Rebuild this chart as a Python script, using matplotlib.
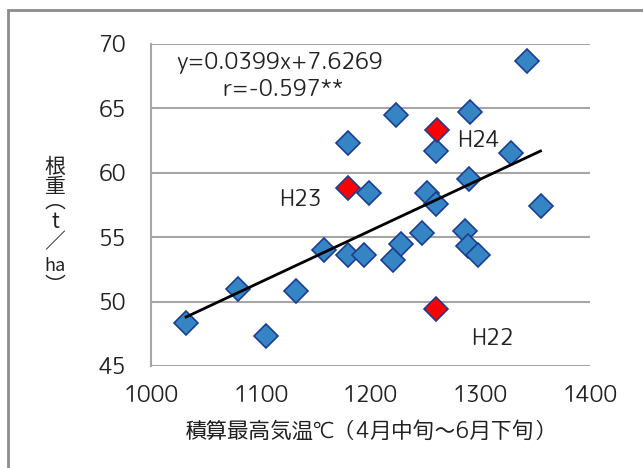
# coding=utf-8
import matplotlib
matplotlib.use("Agg")
import matplotlib.pyplot as plt
import numpy as np
from matplotlib.patches import Rectangle

plt.rcParams['font.family'] = ['Rounded Mplus 1c', 'Noto Sans CJK JP', 'DejaVu Sans']

# accumulated max temperature (x) and root weight t/ha (y)
temp_normal = [1032, 1079, 1105, 1132, 1158, 1179.5, 1194, 1179.5, 1199, 1223,
               1221, 1228, 1247, 1252, 1260, 1260, 1291, 1290, 1286, 1289,
               1298, 1328, 1343, 1355]
root_normal = [48.35, 51.0, 47.3, 50.8, 54.0, 53.6, 53.6, 62.3, 58.4, 64.5,
               53.2, 54.5, 55.3, 58.4, 57.6, 61.7, 64.7, 59.5, 55.5, 54.3,
               53.6, 61.5, 68.7, 57.4]

# highlighted years H23, H24, H22
temp_red = [1179.5, 1261, 1260]
root_red = [58.8, 63.3, 49.4]
red_labels = ['H23', 'H24', 'H22']

slope = 0.0399
intercept = 7.6269

xticks = [1000, 1100, 1200, 1300, 1400]
yticks = [45, 50, 55, 60, 65, 70]

fig = plt.figure(figsize=(6.43, 4.68), dpi=100)
ax = fig.add_axes([0.2348, 0.218, 0.6826, 0.688])

# outer chart frame (cropped at right/bottom)
fig.patches.append(Rectangle((8 / 643, -0.1), 1.2, 1 - 10 / 468 + 0.1,
                             transform=fig.transFigure, fill=False,
                             edgecolor='#8c8c8c', linewidth=2))

grid_c = '#a6a6a6'
for yv in yticks:
    ax.axhline(yv, color=grid_c, linewidth=1.5, zorder=1)

# regression line over data range
all_x = np.array(temp_normal + temp_red)
xl = np.array([all_x.min(), all_x.max()])
ax.plot(xl, slope * xl + intercept, color='black', linewidth=2, zorder=3)

ax.plot(temp_normal, root_normal, linestyle='none', marker='D', markersize=12,
        markerfacecolor='#3585c4', markeredgecolor='#1c3d8f', markeredgewidth=1.2, zorder=2)
ax.plot(temp_red, root_red, linestyle='none', marker='D', markersize=12,
        markerfacecolor='#ff0000', markeredgecolor='#1c3d8f', markeredgewidth=1.2, zorder=2)

txt_c = '#222222'
fs = 16
ax.text(1117.5, 68.5, 'y=0.0399x+7.6269', ha='center', va='center', fontsize=fs, color=txt_c)
ax.text(1120, 66.4, 'r=-0.597**', ha='center', va='center', fontsize=fs, color=txt_c)
label_pos = [(1116.5, 57.9), (1279, 62.5), (1291.5, 47.1)]
for lab, (lx, ly) in zip(red_labels, label_pos):
    ax.text(lx, ly, lab, ha='left', va='center', fontsize=fs, color=txt_c)

ax.set_xlim(1000, 1400)
ax.set_ylim(45, 70)
ax.set_xticks(xticks)
ax.set_yticks(yticks)
ax.tick_params(length=0, labelsize=fs, colors=txt_c)
ax.tick_params(axis='y', pad=18)
ax.tick_params(axis='x', pad=14)
for s in ['top', 'right', 'bottom']:
    ax.spines[s].set_visible(False)
ax.spines['left'].set_color(grid_c)
ax.spines['left'].set_linewidth(1.5)

ax.set_xlabel('積算最高気温℃（4月中旬～6月下旬）', fontsize=15.5, color=txt_c, labelpad=10)

# vertical y-axis label, stacked glyph by glyph (pixel rows from top)
ylab_parts = [('根', 167, 15), ('重', 187, 15), ('︵', 202, 15),
              ('t', 222, 15), ('／', 242, 15), ('ha', 266, 13),
              ('︶', 286, 15)]
for ch, ypx, size in ylab_parts:
    fig.text(55 / 643, 1 - ypx / 468, ch, ha='center', va='center',
             fontsize=size, color=txt_c, family=['Noto Sans CJK JP', 'DejaVu Sans'])

fig.savefig('out.png', dpi=100)
